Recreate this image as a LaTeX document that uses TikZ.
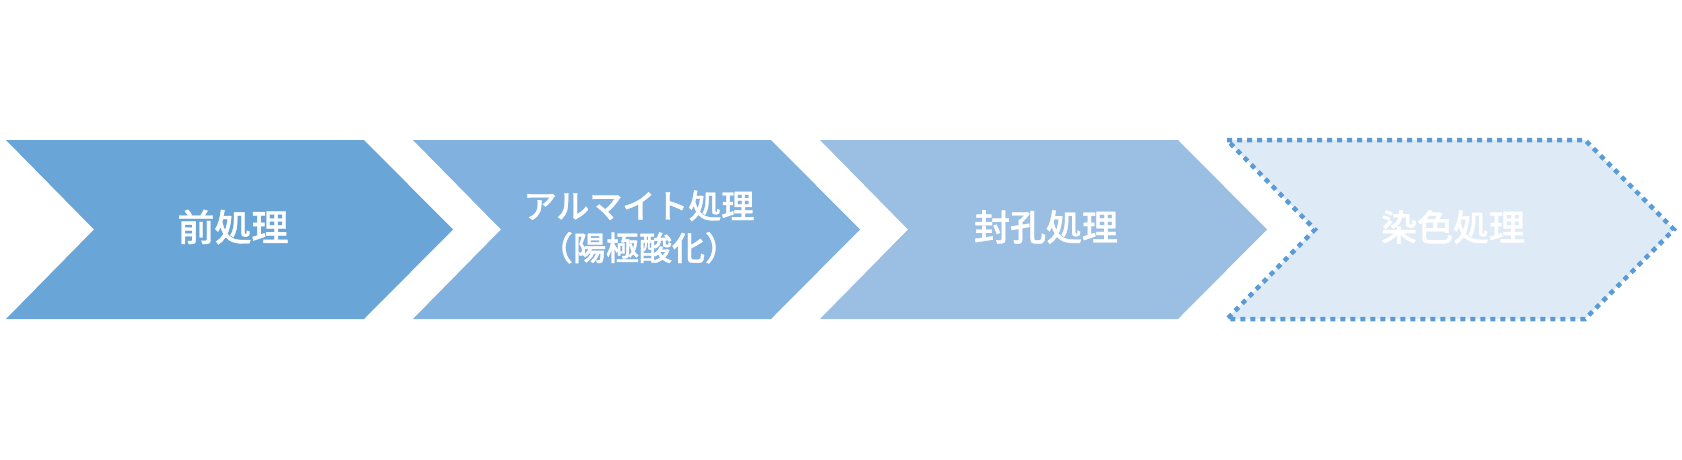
\documentclass[tikz,border=0pt]{standalone}
\usepackage{fontspec}
\newfontfamily\jp{Noto Sans CJK JP Medium}[FakeBold=1]
\definecolor{cA}{HTML}{6AA5D7}
\definecolor{cB}{HTML}{81B1DF}
\definecolor{cC}{HTML}{9ABFE3}
\definecolor{cD}{HTML}{DEEBF7}
\definecolor{cLine}{HTML}{5B9BD5}
\newcommand\chevpath[1]{(#1,140) -- ++(358,0) -- ++(89,89.5) -- ++(-89,89.5) -- ++(-358,0) -- ++(88,-89.5) -- cycle}
\tikzset{
  lab/.style={text=white, font=\jp\fontsize{36}{42}\selectfont, align=center, inner sep=0pt},
}
\begin{document}
\begin{tikzpicture}[x=1pt,y=-1pt]
\useasboundingbox (0,0) rectangle (1682,459);
\fill[cA] \chevpath{6};
\fill[cB] \chevpath{413};
\fill[cC] \chevpath{820};
\fill[cD] \chevpath{1227};
\draw[cLine, line width=4.5pt, dash pattern=on 5pt off 5pt] \chevpath{1227};
\node[lab, font=\jp\fontsize{37}{42}\selectfont] (l1) at (233,227) {前処理};
\node[lab, font=\jp\fontsize{33}{42}\selectfont] (l2) at (639,227) {アルマイト処理\\（陽極酸化）};
\node[lab] (l3) at (1046,227) {封孔処理};
\node[lab] (l4) at (1453,227) {染色処理};
\end{tikzpicture}
\end{document}
